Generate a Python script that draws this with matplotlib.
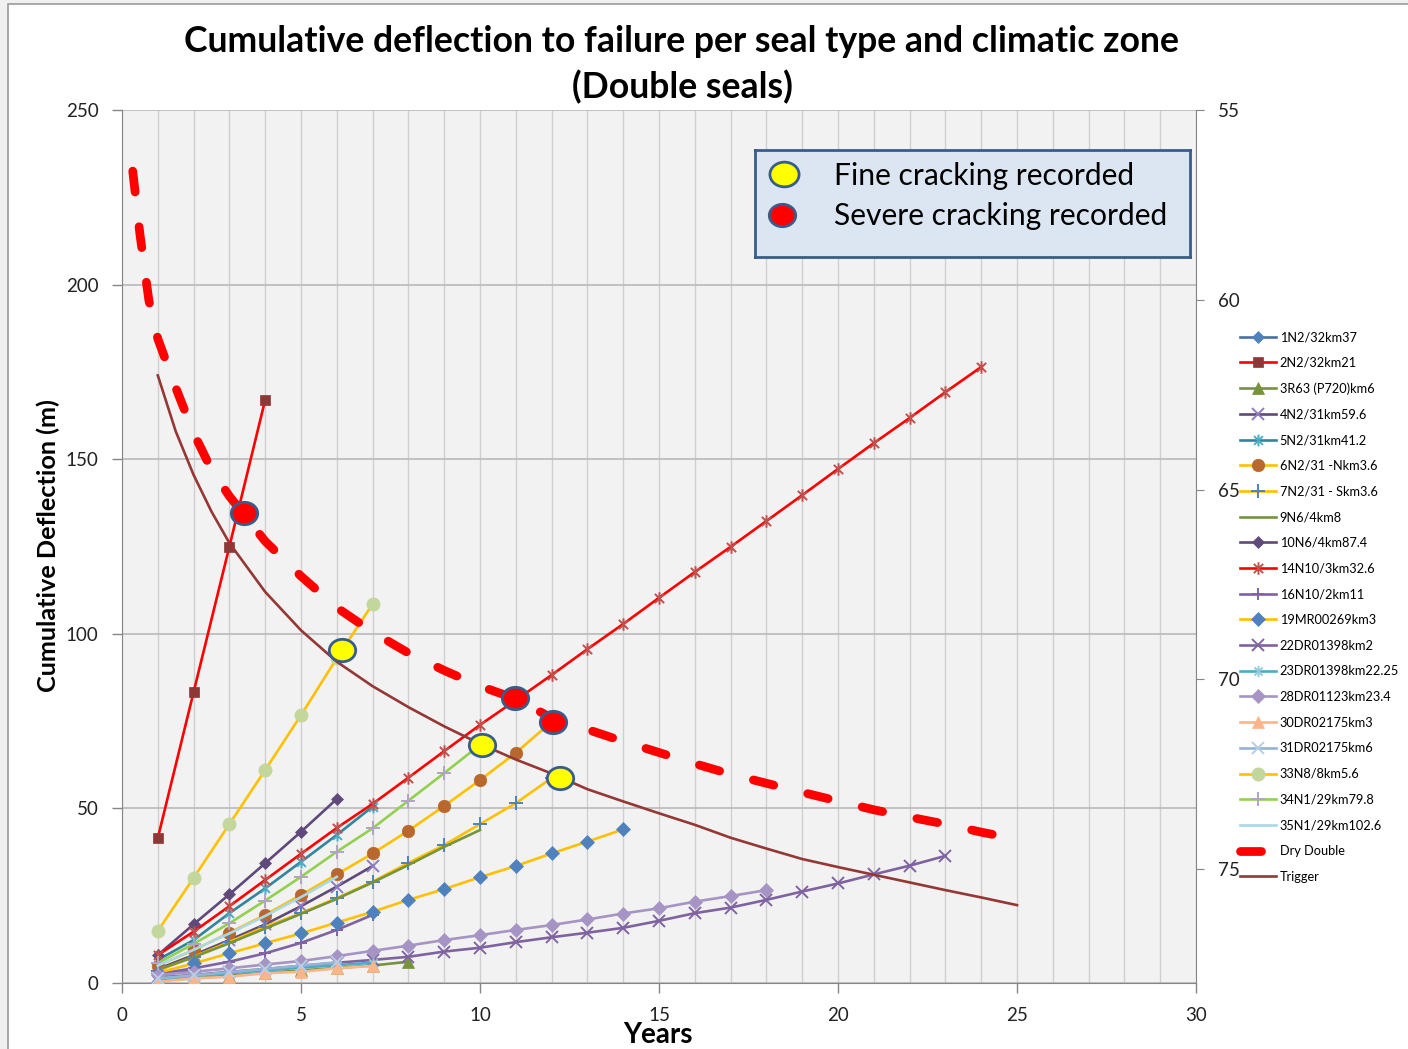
import matplotlib
matplotlib.use("Agg")
import matplotlib.pyplot as plt
from matplotlib.path import Path
from matplotlib.patches import Rectangle

plt.rcParams['font.family'] = ['Lato', 'DejaVu Sans']

# ---------------- data ----------------
s_1N2 = [2.0, 4.0]
s_2N2 = [41.5, 83.3, 125.0, 167.0]
s_3R63 = [0.7, 1.4, 2.1, 2.9, 3.6, 4.3, 5.0, 6.1]
s_4N2 = [4.0, 8.0, 12.3, 16.8, 22.0, 27.6, 33.5]
s_5N2 = [6.6, 12.3, 20.0, 27.1, 34.7, 42.4, 50.5]
s_6N2 = [5.0, 9.4, 14.4, 19.5, 25.2, 31.1, 37.1, 43.6, 50.7, 58.1, 65.9, 74.8]
s_7N2 = [3.5, 7.5, 11.8, 16.1, 20.0, 24.3, 29.0, 34.4, 39.5, 45.5, 51.5, 58.7]
s_9N6 = [3.8, 7.4, 11.4, 15.6, 19.8, 24.1, 28.8, 33.8, 39.0, 43.8]
s_10N6 = [8.0, 16.8, 25.4, 34.3, 43.3, 52.7]
s_14N10 = [8.0, 14.7, 22.0, 29.5, 37.0, 44.4, 51.3, 58.8, 66.4, 73.9, 81.0, 88.2,
           95.6, 102.8, 110.3, 117.7, 124.9, 132.3, 139.7, 147.2, 154.6, 161.8,
           169.2, 176.4]
s_16N10 = [2.6, 4.2, 6.1, 8.5, 11.5, 15.2, 19.5]
s_19MR = [2.9, 5.6, 8.5, 11.4, 14.2, 17.3, 20.4, 23.8, 26.9, 30.3, 33.5, 37.1, 40.5, 44.0]
s_22DR = [1.6, 2.3, 3.2, 4.0, 4.9, 5.8, 6.6, 7.5, 9.0, 10.1, 11.7, 13.1, 14.4, 15.8,
          17.8, 20.0, 21.6, 23.8, 26.2, 28.5, 31.1, 33.6, 36.4]
s_23DR = [1.2, 2.0, 2.8, 3.6, 4.4, 5.1, 5.8]
s_28DR = [2.3, 3.2, 4.2, 5.3, 6.3, 7.7, 9.2, 10.7, 12.3, 13.7, 15.2, 16.6, 18.2,
          19.9, 21.4, 23.3, 24.9, 26.6]
s_30DR = [0.4, 1.3, 1.8, 2.8, 3.2, 4.2, 4.9]
s_31DR = [1.3, 2.2, 3.1, 4.0, 5.0, 5.9]
s_33N8 = [14.9, 30.1, 45.5, 61.0, 76.7, 93.0, 108.5]
s_34N1 = [5.7, 11.2, 17.1, 23.6, 30.4, 37.6, 44.3, 52.2, 60.1, 68.2]
s_35N1 = [5.0, 9.5, 14.2, 19.2, 24.6, 30.4]

dry_years = [0.3, 0.5, 0.75, 1, 1.5, 2, 2.5, 3, 4, 5, 6, 7, 8, 9, 10, 11, 12, 13,
             14, 15, 16, 17, 18, 19, 20, 21, 22, 23, 24, 25]
dry_double = [232.5, 214.5, 195.5, 184.5, 170.5, 157.5, 147.0, 139.4, 126.5, 116.5,
              107.5, 100.5, 94.5, 89.5, 85.0, 81.4, 75.9, 72.6, 69.2, 66.0, 62.8,
              59.8, 57.2, 54.6, 52.1, 49.6, 47.5, 45.5, 43.2, 41.2]

trigger_years = [1, 1.5, 2, 2.5, 3, 4, 5, 6, 7, 8, 9, 10, 11, 12, 13, 14, 15, 16, 17,
                 18, 19, 20, 21, 22, 23, 24, 25]
trigger = [174.0, 158.0, 145.5, 135.0, 126.0, 112.0, 101.0, 92.0, 85.0, 79.0, 73.5,
           68.5, 64.0, 60.0, 55.5, 52.0, 48.6, 45.3, 41.6, 38.5, 35.5, 33.2, 31.0,
           28.8, 26.6, 24.5, 22.3]

fine_years = [6.15, 10.05, 12.23]
fine_defl = [95.4, 68.2, 58.7]
severe_years = [3.41, 10.98, 12.04]
severe_defl = [134.5, 81.6, 74.7]

labels = ['1N2/32km37', '2N2/32km21', '3R63 (P720)km6', '4N2/31km59.6',
          '5N2/31km41.2', '6N2/31 -Nkm3.6', '7N2/31 - Skm3.6', '9N6/4km8',
          '10N6/4km87.4', '14N10/3km32.6', '16N10/2km11', '19MR00269km3',
          '22DR01398km2', '23DR01398km22.25', '28DR01123km23.4', '30DR02175km3',
          '31DR02175km6', '33N8/8km5.6', '34N1/29km79.8', '35N1/29km102.6']
values = [s_1N2, s_2N2, s_3R63, s_4N2, s_5N2, s_6N2, s_7N2, s_9N6, s_10N6, s_14N10,
          s_16N10, s_19MR, s_22DR, s_23DR, s_28DR, s_30DR, s_31DR, s_33N8, s_34N1,
          s_35N1]

# ---------------- styles ----------------
star = Path([(-1, -1), (1, 1), (-1, 1), (1, -1), (0, -1.35), (0, 1.35)],
            [Path.MOVETO, Path.LINETO, Path.MOVETO, Path.LINETO, Path.MOVETO, Path.LINETO])
ellipse_verts = [(1.18 * x, y) for x, y in Path.unit_circle().vertices]
ellipse = Path(ellipse_verts, Path.unit_circle().codes)

# (line colour, marker, marker face, marker size)
styles = [
    ('#4a6fa5', 'D', '#4f81bd', 6.5),
    ('#ff0000', 's', '#8c3836', 7.5),
    ('#77933c', '^', '#77933c', 8.5),
    ('#5f497a', 'x', '#8e7cc3', 8.5),
    ('#31859c', star, '#4bacc6', 8.5),
    ('#ffc000', 'o', '#b8682d', 9.0),
    ('#ffc000', '+', '#4f81bd', 9.5),
    ('#77933c', None, None, 0),
    ('#5f497a', 'D', '#604a7b', 6.5),
    ('#ff0000', star, '#c0504d', 9.0),
    ('#7f63a1', '+', '#7f63a1', 9.0),
    ('#ffc000', 'D', '#4f81bd', 7.0),
    ('#7f63a1', 'x', '#8064a2', 8.5),
    ('#4bacc6', star, '#93cddd', 8.0),
    ('#a594c4', 'D', '#a594c4', 7.0),
    ('#fab58a', '^', '#fab58a', 9.0),
    ('#95b3d7', 'x', '#b9cde5', 8.0),
    ('#ffc000', 'o', '#c3d69b', 9.5),
    ('#92d050', '+', '#b3a2c7', 9.5),
    ('#a9d8e6', None, None, 0),
]

W, H = 1408, 1049
fig = plt.figure(figsize=(W / 100, H / 100), dpi=100)
fig.patch.set_facecolor('#f0f0f0')
fig.add_artist(Rectangle((8 / W, -0.05), 1.2, 1 - 4 / H + 0.05, transform=fig.transFigure,
                         facecolor='white', edgecolor='#9a9a9a', lw=1.2, zorder=-10))

ax = fig.add_axes([122 / W, 1 - 983 / H, (1196 - 122) / W, (983 - 110) / H])
ax.set_facecolor('#f2f2f2')
ax.set_xlim(0, 30)
ax.set_ylim(0, 250)
ax.set_xticks(range(0, 31, 5))
ax.set_xticks(range(0, 31), minor=True)
ax.set_yticks(range(0, 251, 50))
ax.grid(which='both', axis='x', color='#cfcfcf', lw=1.0, zorder=0)
ax.grid(which='major', axis='y', color='#bdbdbd', lw=1.3, zorder=0)
ax.set_axisbelow(True)
ax.tick_params(which='major', direction='out', length=7, width=1.0, color='#868686',
               labelsize=13.5, labelcolor='#222222', pad=10)
ax.tick_params(which='minor', length=0)
for side in ('top', 'right'):
    ax.spines[side].set_visible(False)
for side in ('left', 'bottom'):
    ax.spines[side].set_color('#868686')

handles = []
for lab, vals, (lc, mk, mf, ms) in zip(labels, values, styles):
    yrs = list(range(1, len(vals) + 1))
    kw = dict(color=lc, lw=1.9, label=lab, zorder=3)
    if mk is not None:
        unfilled = mk in ('x', '+') or mk is star
        kw.update(marker=mk, markersize=ms,
                  markerfacecolor=mf, markeredgecolor=mf,
                  markeredgewidth=1.4 if unfilled else 0.5)
    h, = ax.plot(yrs, vals, **kw)
    handles.append(h)

h_dry, = ax.plot(dry_years, dry_double, color='#ff0000', lw=6.3, dashes=(2.4, 4.0),
                 dash_capstyle='round', solid_capstyle='round', label='Dry Double', zorder=4)
h_trig, = ax.plot(trigger_years, trigger, color='#953735', lw=1.9, label='Trigger', zorder=4)
handles += [h_dry, h_trig]

ax.plot(fine_years, fine_defl, ls='none', marker=ellipse, markersize=19,
        markerfacecolor='#ffff00', markeredgecolor='#385d8a', markeredgewidth=2.0, zorder=6)
ax.plot(severe_years, severe_defl, ls='none', marker=ellipse, markersize=19,
        markerfacecolor='#ff0000', markeredgecolor='#385d8a', markeredgewidth=2.0, zorder=6)

ax2 = ax.twinx()
ax2.set_ylim(78, 55)
ax2.set_yticks([55, 60, 65, 70, 75])
ax2.tick_params(direction='out', length=6, color='#868686', labelsize=13.5,
                labelcolor='#222222', pad=10)
for side in ('top', 'left', 'bottom'):
    ax2.spines[side].set_visible(False)
ax2.spines['right'].set_color('#868686')

# titles and axis labels
fig.text(682 / W, 1 - 41 / H, 'Cumulative deflection to failure per seal type and climatic zone',
         ha='center', va='center', fontsize=25.7, fontweight='bold')
fig.text(682 / W, 1 - 87 / H, '(Double seals)', ha='center', va='center',
         fontsize=25.7, fontweight='bold')
fig.text(48 / W, 1 - 546 / H, 'Cumulative Deflection (m)', rotation=90, ha='center',
         va='center', fontsize=18.2, fontweight='bold')
fig.text(658 / W, 1 - 1035 / H, 'Years', ha='center', va='center', fontsize=20,
         fontweight='bold')

# series legend
fig.legend(handles=handles, loc='upper left', bbox_to_anchor=(1240 / W, 1 - 331 / H),
           frameon=False, fontsize=9.2, handlelength=2.85, handletextpad=0.25,
           labelspacing=1.07, borderpad=0, borderaxespad=0)

# cracking key box
kax = fig.add_axes([755 / W, 1 - 257 / H, 435 / W, 107 / H])
kax.set_facecolor('#dce6f2')
kax.set_xlim(0, 435)
kax.set_ylim(107, 0)
kax.set_xticks([])
kax.set_yticks([])
for sp in kax.spines.values():
    sp.set_color('#385d8a')
    sp.set_linewidth(2.0)
kax.plot([28.5], [23.5], ls='none', marker=ellipse, markersize=21,
         markerfacecolor='#ffff00', markeredgecolor='#385d8a', markeredgewidth=2.0)
kax.plot([27], [65], ls='none', marker=ellipse, markersize=19,
         markerfacecolor='#ff0000', markeredgecolor='#385d8a', markeredgewidth=2.0)
kax.text(79, 26, 'Fine cracking recorded', fontsize=21.6, va='center', ha='left')
kax.text(79, 66, 'Severe cracking recorded', fontsize=21.6, va='center', ha='left')

fig.savefig('out.png', dpi=100, facecolor=fig.get_facecolor())
